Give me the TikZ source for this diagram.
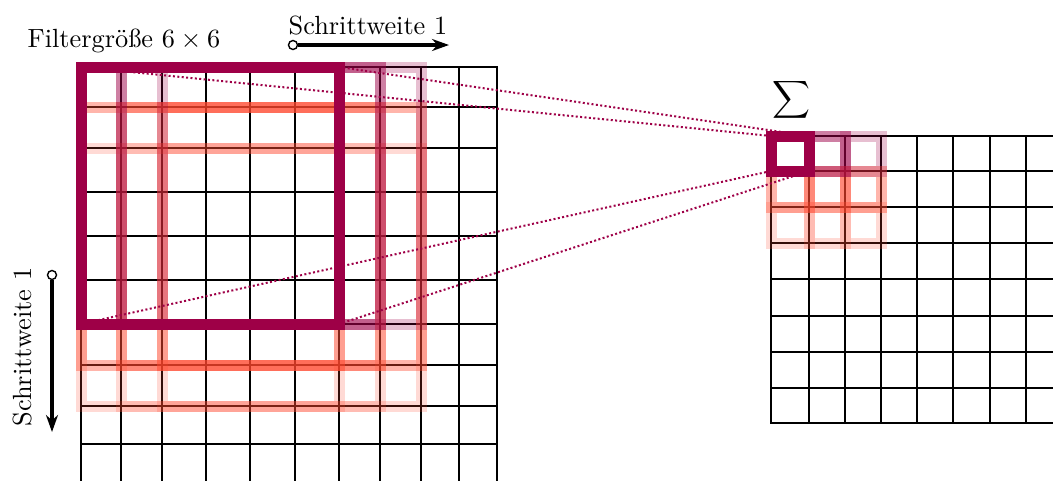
\documentclass[tikz,border=0pt]{standalone}
\usetikzlibrary{arrows.meta}
\definecolor{filt}{RGB}{158,0,71}
\definecolor{filtred}{RGB}{255,70,45}
\begin{document}
\begin{tikzpicture}[x=1pt,y=-1pt,
  gridline/.style={line width=1.8pt, black, line cap=rect},
  fbox/.style={line width=11pt, line join=miter},
  lbl/.style={scale=2.63, inner sep=0pt},
  conn/.style={filt, line width=2pt, dash pattern=on 2pt off 2.4pt},
  ring/.style={circle, draw, fill=white, line width=1.4pt, inner sep=0pt, minimum size=9pt},
  stride/.style={line width=3.3pt, -{Stealth[length=17pt,width=12pt]}}
]
\useasboundingbox (0,0) rectangle (1053,480);
\clip (0,0) rectangle (1053,480);

% input grid
\foreach \x in {81,121,162,206,250,295,339,380,421,459,497}
  \draw[gridline] (\x,67) -- (\x,490);
\foreach \y in {67,107,148,192,236,280,324,365,406,444}
  \draw[gridline] (81,\y) -- (497,\y);

% output grid
\foreach \x in {771,809,845,881,917,953,990,1026}
  \draw[gridline] (\x,136) -- (\x,423);
\foreach \y in {136,171,207,243,279,316,352,388,423}
  \draw[gridline] (771,\y) -- (1060,\y);

% filter positions on the input
\foreach \a/\b in {81/339,121/380,162/421}
  \draw[fbox, filtred, opacity=0.2] (\a,148) rectangle (\b,406);
\foreach \a/\b in {81/339,121/380,162/421}
  \draw[fbox, filtred, opacity=0.4] (\a,107) rectangle (\b,365);
\draw[fbox, filt, opacity=0.25] (162,67) rectangle (421,324);
\draw[fbox, filt, opacity=0.5] (121,67) rectangle (380,324);
\draw[fbox, filt] (81,67) rectangle (339,324);

% corresponding output cells
\foreach \a/\b in {771/809,809/845,845/881}
  \draw[fbox, filtred, opacity=0.2] (\a,207) rectangle (\b,243);
\foreach \a/\b in {771/809,809/845,845/881}
  \draw[fbox, filtred, opacity=0.4] (\a,171) rectangle (\b,207);
\draw[fbox, filt, opacity=0.25] (845,136) rectangle (881,171);
\draw[fbox, filt, opacity=0.5] (809,136) rectangle (845,171);
\draw[fbox, filt] (771,136) rectangle (809,171);

% corners
\coordinate (fTL) at (81,67);
\coordinate (fTR) at (339,67);
\coordinate (fBL) at (81,324);
\coordinate (fBR) at (339,324);
\coordinate (oTL) at (771,136);
\coordinate (oTR) at (809,136);
\coordinate (oBL) at (771,171);
\coordinate (oBR) at (809,171);
\draw[conn] (fTL) -- (oTL);
\draw[conn] (fTR) -- (oTR);
\draw[conn] (fBL) -- (oBL);
\draw[conn] (fBR) -- (oBR);

% stride arrows
\node[ring] (hs) at (293,45) {};
\coordinate (he) at (449,45);
\draw[stride] (hs) -- (he);
\node[ring] (vs) at (52,275) {};
\coordinate (ve) at (52,432);
\draw[stride] (vs) -- (ve);

% labels
\node[lbl, anchor=base] (filtlab) at (124,47) {Filtergröße $6\times 6$};
\node[lbl, anchor=base] (hlab) at (368,34) {Schrittweite 1};
\node[lbl, rotate=90] (vlab) at (22.5,347) {Schrittweite 1};
\node[lbl] (sumlab) at (791,100) {$\displaystyle\sum$};
\end{tikzpicture}
\end{document}
